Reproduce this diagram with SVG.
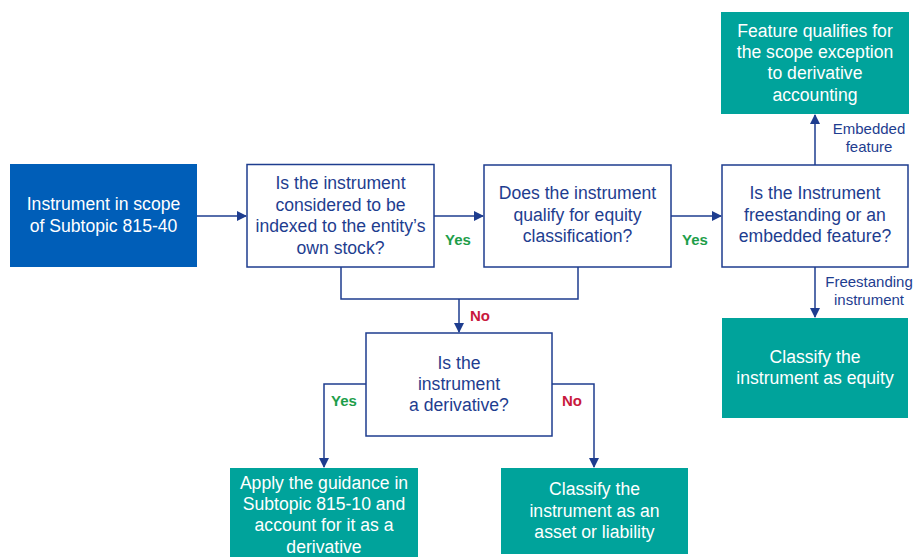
<svg xmlns="http://www.w3.org/2000/svg" width="914" height="557" viewBox="0 0 914 557">
<defs>
<style>
.q{fill:#ffffff;stroke:#1E3D8F;stroke-width:1.5}
.s{fill:#005EB8}
.t{fill:#00A39B}
.qt{font-family:"Liberation Sans",Arial,sans-serif;font-size:17.6px;fill:#1E3D8F;text-anchor:middle}
.wt{font-family:"Liberation Sans",Arial,sans-serif;font-size:17.6px;fill:#ffffff;text-anchor:middle}
.c{fill:none;stroke:#1E3D8F;stroke-width:1.5}
.yes{font-family:"Liberation Sans",Arial,sans-serif;font-size:15px;font-weight:bold;fill:#1E9E4A}
.no{font-family:"Liberation Sans",Arial,sans-serif;font-size:15px;font-weight:bold;fill:#C8193C}
.lb{font-family:"Liberation Sans",Arial,sans-serif;font-size:15px;fill:#1E3D8F;text-anchor:middle}
</style>
<marker id="ah" markerWidth="10" markerHeight="10" refX="9" refY="5" orient="auto" markerUnits="userSpaceOnUse">
<path d="M0,0 L10,5 L0,10 Z" fill="#1E3D8F"/>
</marker>
</defs>
<rect width="914" height="557" fill="#ffffff"/>

<g id="connectors">
<line class="c" x1="197" y1="216" x2="246" y2="216" marker-end="url(#ah)"/>
<line class="c" x1="434" y1="216" x2="483" y2="216" marker-end="url(#ah)"/>
<line class="c" x1="671" y1="216" x2="721" y2="216" marker-end="url(#ah)"/>
<polyline class="c" points="341,267 341,299 578,299 578,267"/>
<line class="c" x1="459" y1="299" x2="459" y2="332" marker-end="url(#ah)"/>
<polyline class="c" points="366,384 324,384 324,467" marker-end="url(#ah)"/>
<polyline class="c" points="552,384 594,384 594,467" marker-end="url(#ah)"/>
<line class="c" x1="815" y1="165" x2="815" y2="115" marker-end="url(#ah)"/>
<line class="c" x1="815" y1="267" x2="815" y2="317" marker-end="url(#ah)"/>
<text class="yes" x="445" y="245">Yes</text>
<text class="yes" x="682" y="245">Yes</text>
<text class="no" x="470" y="321">No</text>
<text class="yes" x="331" y="406">Yes</text>
<text class="no" x="562" y="406">No</text>
<text class="lb" x="869" y="134">Embedded</text>
<text class="lb" x="869" y="152">feature</text>
<text class="lb" x="869" y="287">Freestanding</text>
<text class="lb" x="869" y="305">instrument</text>
</g>

<g id="start">
<rect class="s" x="10" y="164" width="187" height="103"/>
<text class="wt" x="103.5" y="210">Instrument in scope</text>
<text class="wt" x="103.5" y="232">of Subtopic 815-40</text>
</g>

<g id="indexed">
<rect class="q" x="247" y="164.5" width="187" height="102.5"/>
<text class="qt" x="340.5" y="189">Is the instrument</text>
<text class="qt" x="340.5" y="210.5">considered to be</text>
<text class="qt" x="340.5" y="232">indexed to the entity’s</text>
<text class="qt" x="340.5" y="253.5">own stock?</text>
</g>

<g id="equity">
<rect class="q" x="484" y="165" width="187" height="102"/>
<text class="qt" x="577.5" y="199">Does the instrument</text>
<text class="qt" x="577.5" y="220.5">qualify for equity</text>
<text class="qt" x="577.5" y="242">classification?</text>
</g>

<g id="freestanding">
<rect class="q" x="722" y="165" width="186" height="102"/>
<text class="qt" x="815" y="199">Is the Instrument</text>
<text class="qt" x="815" y="220.5">freestanding or an</text>
<text class="qt" x="815" y="242">embedded feature?</text>
</g>

<g id="scope-exception">
<rect class="t" x="721" y="12" width="188" height="102"/>
<text class="wt" x="815" y="37">Feature qualifies for</text>
<text class="wt" x="815" y="58">the scope exception</text>
<text class="wt" x="815" y="79">to derivative</text>
<text class="wt" x="815" y="101">accounting</text>
</g>

<g id="classify-equity">
<rect class="t" x="722" y="318" width="186" height="100"/>
<text class="wt" x="815" y="363">Classify the</text>
<text class="wt" x="815" y="384">instrument as equity</text>
</g>

<g id="derivative">
<rect class="q" x="366" y="333" width="186" height="103"/>
<text class="qt" x="459" y="369">Is the</text>
<text class="qt" x="459" y="390">instrument</text>
<text class="qt" x="459" y="411">a derivative?</text>
</g>

<g id="apply-guidance">
<rect class="t" x="230" y="468" width="188" height="89"/>
<text class="wt" x="324" y="489">Apply the guidance in</text>
<text class="wt" x="324" y="510">Subtopic 815-10 and</text>
<text class="wt" x="324" y="531">account for it as a</text>
<text class="wt" x="324" y="553">derivative</text>
</g>

<g id="asset-liability">
<rect class="t" x="501" y="468" width="187" height="86"/>
<text class="wt" x="594.5" y="495">Classify the</text>
<text class="wt" x="594.5" y="517">instrument as an</text>
<text class="wt" x="594.5" y="538">asset or liability</text>
</g>
</svg>
